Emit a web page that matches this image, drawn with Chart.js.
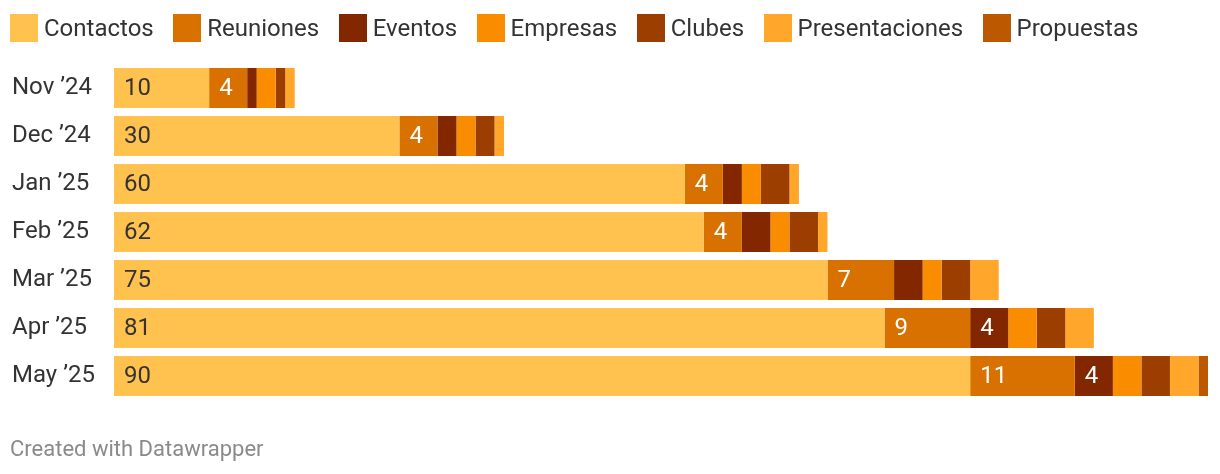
<!DOCTYPE html>
<html>
<head>
<meta charset="utf-8">
<script src="https://cdn.jsdelivr.net/npm/chart.js@4"></script>
<style>
  html, body { margin: 0; padding: 0; background: #fff; }
  #wrap { position: relative; width: 1220px; height: 474px; font-family: Roboto, sans-serif; }
  #legend { position: absolute; left: 10px; top: 14px; display: flex; }
  .item { display: flex; align-items: center; margin-right: 19.5px; font-size: 24px; color: #333; height: 28px; }
  .item span { display: inline-block; width: 28px; height: 28px; margin-right: 6px; }
  #footer { position: absolute; left: 10px; top: 436px; font-size: 22px; color: #8a8a8a; }
</style>
</head>
<body>
<div id="wrap">
  <div id="legend"></div>
  <canvas id="bars" width="1220" height="474"></canvas>
  <div id="footer">Created with Datawrapper</div>
</div>
<script>
const months = ['Nov \u201924', 'Dec \u201924', 'Jan \u201925', 'Feb \u201925', 'Mar \u201925', 'Apr \u201925', 'May \u201925'];

const contactos      = [10, 30, 60, 62, 75, 81, 90];
const reuniones      = [4, 4, 4, 4, 7, 9, 11];
const eventos        = [1, 2, 2, 3, 3, 4, 4];
const empresas       = [2, 2, 2, 2, 2, 3, 3];
const clubes         = [1, 2, 3, 3, 3, 3, 3];
const presentaciones = [1, 1, 1, 1, 3, 3, 3];
const propuestas     = [0, 0, 0, 0, 0, 0, 1];

const series = [
    { label: 'Contactos', data: contactos, color: '#ffc24e', text: '#333333' },
    { label: 'Reuniones', data: reuniones, color: '#d97100', text: '#ffffff' },
    { label: 'Eventos', data: eventos, color: '#822700', text: '#ffffff' },
    { label: 'Empresas', data: empresas, color: '#fa8c00', text: '#ffffff' },
    { label: 'Clubes', data: clubes, color: '#9b3e00', text: '#ffffff' },
    { label: 'Presentaciones', data: presentaciones, color: '#ffa62b', text: '#ffffff' },
    { label: 'Propuestas', data: propuestas, color: '#bb5800', text: '#ffffff' }
];

// html legend
let legendEl = document.getElementById('legend');
series.forEach(s => {
    let item = document.createElement('div');
    item.className = 'item';
    item.innerHTML = '<span style="background:' + s.color + '"></span>' + s.label;
    legendEl.appendChild(item);
});

// value labels inside the segments
const segmentLabels = {
    id: 'segmentLabels',
    afterDatasetsDraw(chart) {
        let ctx = chart.ctx;
        ctx.save();
        ctx.font = '24px Roboto';
        ctx.textBaseline = 'middle';
        ctx.textAlign = 'left';
        chart.data.datasets.forEach((ds, i) => {
            let meta = chart.getDatasetMeta(i);
            meta.data.forEach((bar, j) => {
                let v = ds.data[j];
                if (i > 0 && v < 4) return;
                ctx.fillStyle = series[i].text;
                ctx.fillText(v, bar.base + 10, bar.y + 1);
            });
        });
        ctx.restore();
    }
};

let ctxBars = document.getElementById('bars').getContext('2d');
let barChart = new Chart(ctxBars, {
    type: 'bar',
    data: {
        labels: months,
        datasets: series.map(s => ({
            label: s.label,
            data: s.data,
            backgroundColor: s.color,
            borderWidth: 0,
            barPercentage: 40 / 48,
            categoryPercentage: 1
        }))
    },
    options: {
        indexAxis: 'y',
        responsive: false,
        animation: false,
        layout: {
            padding: { top: 64, left: 12, right: 12, bottom: 74 }
        },
        scales: {
            x: {
                stacked: true,
                display: false,
                min: 0,
                max: 115
            },
            y: {
                stacked: true,
                grid: { display: false },
                border: { display: false },
                ticks: {
                    crossAlign: 'far',
                    color: '#333',
                    font: { family: 'Roboto', size: 24 }
                },
                afterFit(scale) {
                    scale.width = 102;
                }
            }
        },
        plugins: {
            legend: { display: false },
            tooltip: { enabled: false }
        }
    },
    plugins: [segmentLabels]
});
</script>
</body>
</html>
